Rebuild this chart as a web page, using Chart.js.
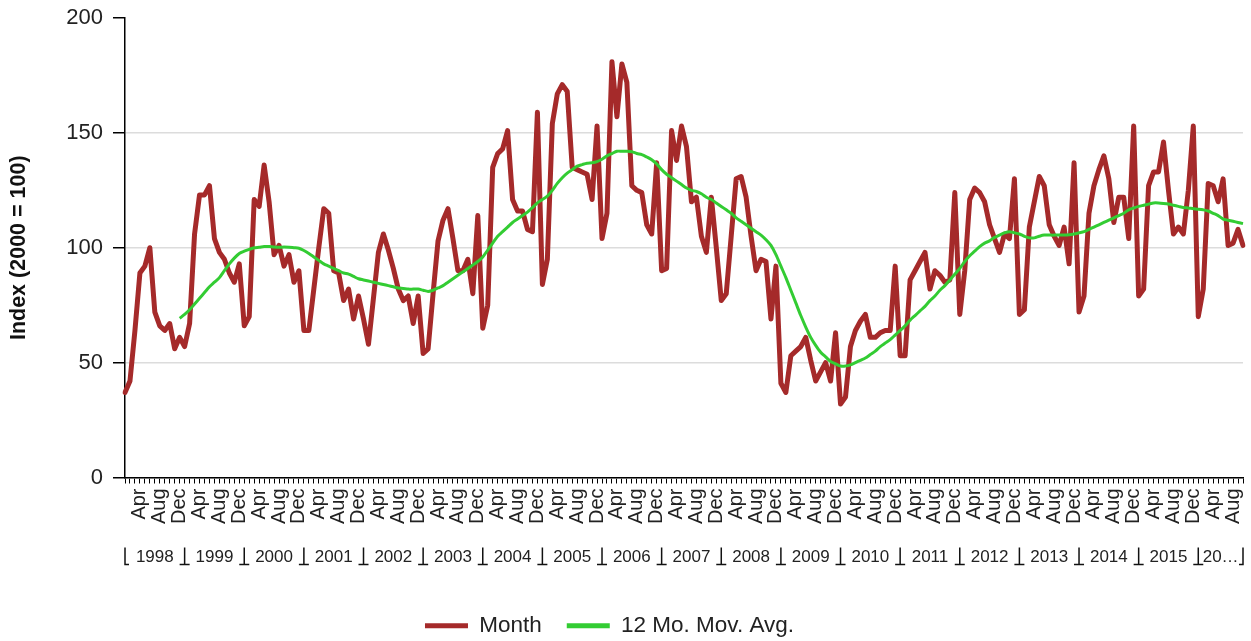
<!DOCTYPE html>
<html>
<head>
<meta charset="utf-8">
<script src="https://cdn.jsdelivr.net/npm/chart.js@4.4.0/dist/chart.umd.min.js"></script>
<style>
  html, body { margin: 0; padding: 0; background: #fff; overflow: hidden; }
  #wrap { width: 1251px; height: 641px; position: relative; }
</style>
</head>
<body>
<div id="wrap"><canvas id="indexChart"></canvas></div>
<script>
/* data */
const years = [1998, 1999, 2000, 2001, 2002, 2003, 2004, 2005, 2006, 2007, 2008, 2009, 2010, 2011, 2012, 2013, 2014, 2015, 2016];
const monthNames = ['Jan', 'Feb', 'Mar', 'Apr', 'May', 'Jun', 'Jul', 'Aug', 'Sep', 'Oct', 'Nov', 'Dec'];
const shownMonths = ['Apr', 'Aug', 'Dec'];
const yTicks = [0, 50, 100, 150, 200];

const monthValues = [
   37,  42,  64,  89,  92, 100,  72,  66,  64,  67,  56,  61,   // 1998
   57,  67, 106, 123, 123, 127, 104,  98,  95,  89,  85,  93,   // 1999
   66,  70, 121, 118, 136, 120,  97, 101,  92,  97,  85,  90,   // 2000
   64,  64,  82, 100, 117, 115,  90,  89,  77,  82,  69,  79,   // 2001
   69,  58,  78,  98, 106,  99,  91,  82,  77,  79,  67,  79,   // 2002
   54,  56,  80, 103, 112, 117, 104,  90,  90,  95,  80, 114,   // 2003
   65,  75, 135, 141, 143, 151, 121, 116, 116, 108, 107, 159,   // 2004
   84,  95, 154, 167, 171, 168, 135, 134, 133, 132, 121, 153,   // 2005
  104, 115, 181, 157, 180, 172, 127, 125, 124, 110, 106, 137,   // 2006
   90,  91, 151, 138, 153, 144, 120, 122, 105,  98, 122, 100,   // 2007
   77,  80, 105, 130, 131, 122, 105,  90,  95,  94,  69,  92,   // 2008
   41,  37,  53,  55,  57,  61,  51,  42,  46,  50,  42,  63,   // 2009
   32,  35,  57,  64,  68,  71,  61,  61,  63,  64,  64,  92,   // 2010
   53,  53,  86,  90,  94,  98,  82,  90,  88,  85,  86, 124,   // 2011
   71,  90, 121, 126, 124, 120, 110, 104,  98, 106, 104, 130,   // 2012
   71,  73, 109, 120, 131, 127, 110, 105, 101, 109,  93, 137,   // 2013
   72,  79, 115, 127, 134, 140, 130, 111, 122, 122, 104, 153,   // 2014
   79,  82, 127, 133, 133, 146, 125, 106, 109, 106, 125, 153,   // 2015
   70,  82, 128, 127, 120, 130, 101, 102, 108, 101              // 2016
];

const movAvgValues = [
  null, null, null, null, null, null, null, null, null, null, null, 69.3,          // 1998
  71, 73, 75.5, 78, 80.5, 83, 85, 87, 90, 93, 95.5, 97.5,                          // 1999
  98.5, 99.3, 100, 100.2, 100.5, 100.5, 100.3, 100.2, 100.3, 100.2, 100, 99.8,     // 2000
  98.8, 97.5, 96, 94.5, 93, 92, 91, 90, 89, 88.5, 87.5, 86.5,                      // 2001
  86, 85.5, 85, 84.5, 84, 83.5, 83, 82.5, 82.3, 82, 82, 82,                        // 2002
  81.5, 81, 81.5, 82.5, 83.5, 85, 86.5, 88, 89.5, 91, 92.5, 94,                    // 2003
  96, 99, 102, 105, 107, 109, 111, 112.5, 114, 115.5, 117.5, 119.5,                // 2004
  121, 122.5, 125, 128, 130.5, 132.5, 134, 135.5, 136.2, 136.8, 137, 137.5,        // 2005
  138.5, 140, 141, 142, 142, 142, 141.8, 141, 140.5, 139.5, 138.3, 136.5,          // 2006
  134, 132, 130.5, 129, 127.5, 126, 125, 124.5, 123.5, 122, 121, 119.5,            // 2007
  118, 116.5, 115, 113, 111.5, 110, 108.5, 107, 105.5, 103.5, 101, 97,             // 2008
  92, 87, 81.5, 76, 70.5, 65.5, 61, 57.5, 54.5, 52.5, 50.5, 49.5,                  // 2009
  48.5, 48.5, 49, 50, 51, 52, 53.5, 55, 57, 58.5, 60, 62,                          // 2010
  64, 66, 68.5, 70.5, 72.5, 74.5, 77, 79, 81.5, 83.5, 86, 88.5,                    // 2011
  91, 94, 96.5, 98.5, 100.5, 102, 103, 104.5, 105.5, 106.5, 107, 106.5,            // 2012
  106, 105, 104.3, 104.3, 105, 105.5, 105.5, 105.5, 105.6, 105.6, 105.7, 106,      // 2013
  106.5, 107, 108, 109, 110, 111, 112, 113, 114, 115, 116.5, 117.3,                // 2014
  118, 118.5, 119, 119.5, 119.5, 119.3, 119, 118.5, 118, 117.5, 117.3, 117,        // 2015
  116.8, 116.5, 116, 115, 114, 112.5, 112, 111.5, 111, 110.5                       // 2016
];

const RED = '#a52a2a';
const GREEN = '#33cc33';
const FONT = '"Liberation Sans", Arial, sans-serif';
const NARROW = '"Liberation Sans Narrow", "Arial Narrow", "Liberation Sans", sans-serif';

const labels = [];
years.forEach(y => monthNames.forEach(m => labels.push(m + ' ' + y)));
labels.length = monthValues.length;

/* year row under the month labels */
const yearRow = {
    id: 'yearRow',
    afterLayout(chart) {
        // nudge the legend a bit to the left, as in the original
        chart.legend.right -= 24;
    },
    afterDraw(chart) {
        const sx = chart.scales.x, ctx = chart.ctx;
        const top = sx.top + 70, bot = sx.top + 87, mid = sx.top + 80;
        const last = monthValues.length - 1;
        ctx.save();
        ctx.strokeStyle = '#111';
        ctx.lineWidth = 1.5;
        ctx.fillStyle = '#222';
        ctx.font = '17px ' + FONT;
        ctx.textAlign = 'center';
        ctx.textBaseline = 'middle';
        years.forEach((yr, k) => {
            const a = k * 12;
            if (a > last) return;
            const full = a + 12 <= last;
            const xa = sx.getPixelForValue(a);
            const xb = sx.getPixelForValue(Math.min(a + 12, last));
            ctx.fillText(full ? String(yr) : String(yr).slice(0, 2) + '…', (xa + xb) / 2, mid);
            ctx.beginPath();
            ctx.moveTo(xa, top);
            ctx.lineTo(xa, bot);
            if (k === 0) ctx.lineTo(xa + 4, bot);
            else { ctx.moveTo(xa - 5, bot); ctx.lineTo(xa + 5, bot); }
            ctx.stroke();
        });
        const xe = sx.getPixelForValue(last);
        ctx.beginPath();
        ctx.moveTo(xe, top);
        ctx.lineTo(xe, bot);
        ctx.lineTo(xe - 4, bot);
        ctx.stroke();
        ctx.restore();
    }
};

new Chart(document.getElementById('indexChart').getContext('2d'), {
    type: 'line',
    data: {
        labels: labels,
        datasets: [
            { label: 'Month', data: monthValues, borderColor: RED, backgroundColor: RED, borderWidth: 5,
              pointRadius: 0, tension: 0, borderJoinStyle: 'round', borderCapStyle: 'round', order: 1 },
            { label: '12 Mo. Mov. Avg.', data: movAvgValues, borderColor: GREEN, backgroundColor: GREEN, borderWidth: 3,
              pointRadius: 0, tension: 0.3, borderJoinStyle: 'round', order: 0 }
        ]
    },
    options: {
        responsive: true,
        maintainAspectRatio: false,
        animation: false,
        layout: { padding: { top: 18, right: 8, left: 0, bottom: -6 } },
        plugins: {
            tooltip: { enabled: false },
            legend: {
                position: 'bottom',
                labels: {
                    boxWidth: 43, boxHeight: 5, padding: 25, color: '#222',
                    font: { size: 22.5, family: FONT },
                    generateLabels: chart => chart.data.datasets.map((d, i) => ({
                        text: d.label, fillStyle: d.borderColor, strokeStyle: d.borderColor,
                        lineWidth: 0, hidden: false, datasetIndex: i, fontColor: '#222'
                    }))
                }
            }
        },
        scales: {
            x: {
                type: 'category',
                offset: false,
                border: { color: '#000', width: 1.5 },
                grid: { drawOnChartArea: false, tickLength: 6, tickColor: '#000', tickWidth: 1 },
                ticks: {
                    autoSkip: false, minRotation: 90, maxRotation: 90, padding: 5,
                    color: '#222', font: { size: 20, family: NARROW },
                    callback: (v, i) => shownMonths.includes(monthNames[i % 12]) ? monthNames[i % 12] : ''
                },
                afterFit: s => { s.height = 112; s.paddingLeft = 0; s.paddingRight = 0; }
            },
            y: {
                min: yTicks[0],
                max: yTicks[yTicks.length - 1],
                border: { color: '#000', width: 1.5 },
                grid: {
                    color: c => (c.tick && c.tick.value === 200) ? 'rgba(0,0,0,0)' : '#dcdcdc',
                    lineWidth: 1.5, tickColor: '#000', tickLength: 12
                },
                ticks: { stepSize: 50, padding: 10, color: '#222', font: { size: 22, family: FONT } },
                title: { display: true, text: 'Index (2000 = 100)', color: '#111', padding: { top: 6, bottom: 0 },
                         font: { size: 21.5, weight: 'bold', family: FONT } },
                afterFit: s => { s.width = 125; s.paddingTop = 0; s.paddingBottom = 0; }
            }
        }
    },
    plugins: [yearRow]
});
</script>
</body>
</html>
